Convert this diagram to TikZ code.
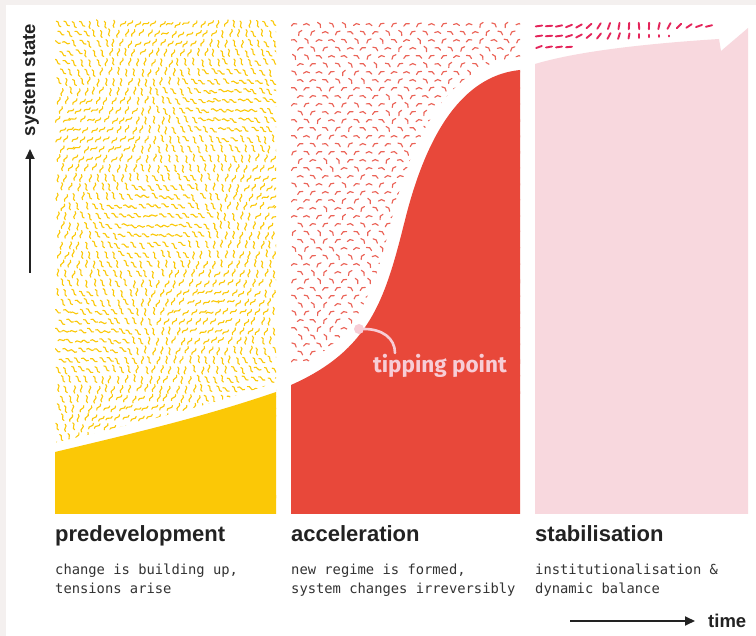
\documentclass[tikz,border=0pt]{standalone}
\usepackage{fontspec}
\setmainfont{Liberation Sans}
\newfontfamily\monofont{DejaVu Sans Mono}
\newfontfamily\tipfont{Fira Sans}
\usetikzlibrary{arrows.meta}
\definecolor{bordergrey}{HTML}{F4F0EF}
\definecolor{yellowc}{HTML}{FBC806}
\definecolor{redc}{HTML}{E8483A}
\definecolor{pinkc}{HTML}{F8D8DE}
\definecolor{dashc}{HTML}{E4245A}
\definecolor{tippink}{HTML}{F7CDD6}
\definecolor{ink}{HTML}{222222}
\definecolor{monoink}{HTML}{333333}
\tikzset{
  heading/.style={anchor=base west, inner sep=0pt, text=ink, font=\fontsize{22}{24}\selectfont\bfseries},
  desc/.style={anchor=base west, inner sep=0pt, text=monoink, font=\monofont\fontsize{13.8}{20}\selectfont},
  axislabel/.style={inner sep=0pt, text=ink, font=\fontsize{18.5}{20}\selectfont\bfseries},
  axisarrow/.style={draw=ink, line width=2pt, -{Triangle[length=10pt,width=9pt]}},
  ysquig/.style={draw=yellowc, line width=1.1pt, line cap=round},
  rarc/.style={draw=redc, line width=1.15pt, line cap=round, opacity=0.85},
  pdash/.style={draw=dashc, line width=1.9pt, line cap=round},
  gapline/.style={draw=white, line width=#1}
}
\begin{document}
\begin{tikzpicture}[x=1pt,y=-1pt]
\useasboundingbox (0,0) rectangle (756,636);
\fill[white] (0,0) rectangle (756,636);
\fill[bordergrey] (0,0) rectangle (756,5);
\fill[bordergrey] (0,0) rectangle (6,636);

% ---------- predevelopment panel ----------
\pgfmathsetseed{5}
\begin{scope}
\clip (55,20) rectangle (276,514);
\foreach \i in {0,...,27}{
  \foreach \j in {0,...,49}{
    \pgfmathsetmacro\px{58+8*\i+mod(\j,2)*4+1.2*rand}
    \pgfmathsetmacro\py{24+9.6*\j+1.2*rand}
    \pgfmathsetmacro\ang{100+45*sin(1.5*\px+1.0*\py)+28*sin(2.6*\py-0.8*\px)+22*rand}
    \draw[ysquig, shift={(\px,\py)}, rotate=\ang] (-3.6,0) .. controls (-1.4,-3) and (1.4,3) .. (3.6,0);
  }
}
\draw[gapline=18pt] (40,456) -- (55,452) .. controls (130,434) and (200,418) .. (276,392) -- (290,388);
\fill[yellowc] (55,452) .. controls (130,434) and (200,418) .. (276,392) -- (276,514) -- (55,514) -- cycle;
\end{scope}

% ---------- acceleration panel ----------
\pgfmathsetseed{11}
\begin{scope}
\clip (291,20) rectangle (520,514);
\foreach \i in {0,...,18}{
  \foreach \j in {0,...,46}{
    \pgfmathsetmacro\px{294+12.5*\i+mod(\j,2)*6.25}
    \pgfmathsetmacro\py{25+8*\j}
    \pgfmathsetmacro\ang{-65+130*rnd}
    \draw[rarc, shift={(\px,\py)}, rotate=\ang] (-3,0) .. controls (-1.4,-1.9) and (1.4,-1.9) .. (3,0);
  }
}
\draw[gapline=26pt] (278,392) -- (291,385) .. controls (370,350) and (385,300) .. (405,220) .. controls (430,120) and (470,75) .. (520,70) -- (535,69);
\fill[redc] (291,385) .. controls (370,350) and (385,300) .. (405,220) .. controls (430,120) and (470,75) .. (520,70) -- (520,514) -- (291,514) -- cycle;
\end{scope}

% ---------- stabilisation panel ----------
\foreach \k/\a in {0/8,1/5,2/12,3/22,4/30,5/42,6/58,7/70,8/80,9/86,10/95,11/88,12/78,13/62,14/46,15/34,16/20,17/14}{
  \draw[pdash, shift={(539+10*\k,26)}, rotate=\a] (-3.2,0) -- (3.2,0);
}
\foreach \k/\a/\l in {0/8/3.2,1/5/3.2,2/8/3.2,3/18/3.2,4/28/3.2,5/40/3.2,6/52/3.2,7/62/3.2,8/72/3,9/80/2.6,10/90/2,11/90/1.2,12/90/0.8,13/90/0.5}{
  \draw[pdash, shift={(539+10*\k,36)}, rotate=\a] (-\l,0) -- (\l,0);
}
\foreach \k/\a in {0/20,1/10,2/8,3/5}{
  \draw[pdash, shift={(539+10*\k,47)}, rotate=\a] (-3,0) -- (3,0);
}
\fill[pinkc] (535,64) .. controls (575,52) and (640,44) .. (719,39) -- (721,51) -- (748,28) -- (748,514) -- (535,514) -- cycle;

% ---------- tipping point ----------
\node[circle, fill=tippink, inner sep=0pt, minimum size=10pt] (tp) at (359,329) {};
\coordinate (tipend) at (395,353);
\draw[tippink, line width=2.6pt, line cap=round] (tp.east) .. controls (382,329) and (395,338) .. (tipend);
\node[anchor=base west, inner sep=0pt, text=tippink, font=\tipfont\fontsize{22.5}{24}\selectfont\bfseries] (tiplabel) at (373,373) {tipping point};

% ---------- headings ----------
\node[heading] (h1) at (55,541) {predevelopment};
\node[heading] (h2) at (291,541) {acceleration};
\node[heading] (h3) at (535,541) {stabilisation};
\node[desc] (d1a) at (55,574) {change is building up,};
\node[desc] (d1b) at (55,594) {tensions arise};
\node[desc] (d2a) at (291,574) {new regime is formed,};
\node[desc] (d2b) at (291,594) {system changes irreversibly};
\node[desc] (d3a) at (535,574) {institutionalisation \&};
\node[desc] (d3b) at (535,594) {dynamic balance};

% ---------- axes ----------
\node[axislabel, rotate=90, anchor=base] (ylab) at (35,80) {system state};
\coordinate (ya) at (30,273);
\coordinate (yb) at (30,149);
\draw[axisarrow] (ya) -- (yb);
\node[axislabel, anchor=base west] (xlab) at (708,627) {time};
\coordinate (xa) at (570,621);
\coordinate (xb) at (695,621);
\draw[axisarrow] (xa) -- (xb);
\end{tikzpicture}
\end{document}
